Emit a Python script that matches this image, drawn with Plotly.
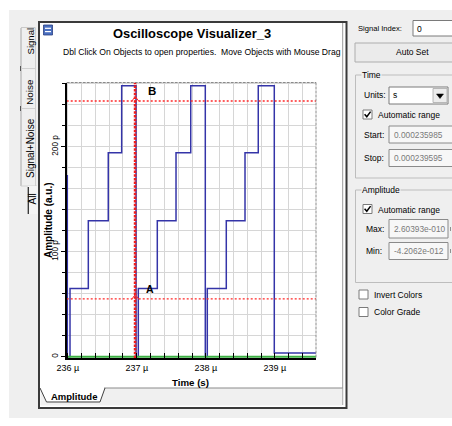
import plotly.graph_objects as go

W, H = 452, 426
FONT = "Liberation Sans, Arial, Helvetica, sans-serif"

# ---------------- data ----------------
time_us = [235.994, 235.994, 236.033, 236.298, 236.587, 236.781, 236.989,
           237.022, 237.297, 237.568, 237.781, 237.992,
           238.021, 238.296, 238.567, 238.759, 238.991, 239.595]
amp_p = [173, 0, 65, 129.5, 194.3, 258, 0,
         65, 129.5, 194.3, 258, 0,
         65, 129.5, 194.3, 258, 3.5, 3.5]
noise_time_us = [235.985, 239.595]
noise_amp_p = [0, 0]
cursor_time_us = [236.975, 236.975]
cursor_span_p = [-1.24, 261.1]
cursor_time_span = [235.985, 239.595]
cursor_a_p = [55, 55]
cursor_b_p = [243.5, 243.5]
x_range = [235.985, 239.595]
y_range = [-1.24, 261.1]
x_tickvals = [236, 237, 238, 239]
x_ticktext = ["236 µ", "237 µ", "238 µ", "239 µ"]
y_tickvals = [0, 100, 200]
y_ticktext = ["0", "100 p", "200 p"]

# ---------------- helpers (pixel -> paper) ----------------
def X(px):
    return px / W


def Y(py):
    return 1 - py / H


PL, PR, PT, PB = 66.7, 316, 82.5, 358

shapes = []
annotations = []


def rect(x0, y0, x1, y1, fill=None, line=None, lw=1, layer="below"):
    shapes.append(dict(type="rect", xref="paper", yref="paper",
                       x0=X(x0), x1=X(x1), y0=Y(y1), y1=Y(y0),
                       fillcolor=fill or "rgba(0,0,0,0)",
                       line=dict(color=line or "rgba(0,0,0,0)", width=lw if line else 0),
                       layer=layer))


def seg(x0, y0, x1, y1, color, lw=1, dash="solid", layer="below"):
    shapes.append(dict(type="line", xref="paper", yref="paper",
                       x0=X(x0), x1=X(x1), y0=Y(y0), y1=Y(y1),
                       line=dict(color=color, width=lw, dash=dash), layer=layer))


def path(pts, color, lw=1, fill=None, closed=False, layer="below"):
    d = "M " + " L ".join(f"{X(x):.5f},{Y(y):.5f}" for x, y in pts)
    if closed:
        d += " Z"
    shapes.append(dict(type="path", xref="paper", yref="paper", path=d,
                       fillcolor=fill or "rgba(0,0,0,0)",
                       line=dict(color=color, width=lw), layer=layer))


def txt(s, x, y, size=8.5, bold=False, color="black", anchor="left", angle=0, bg=None):
    a = dict(x=X(x), y=Y(y), xref="paper", yref="paper",
             text=f"<b>{s}</b>" if bold else s, showarrow=False,
             xanchor=anchor, yanchor="middle", textangle=angle, borderpad=0,
             font=dict(family=FONT, size=size, color=color))
    if bg:
        a["bgcolor"] = bg
    annotations.append(a)


# ---------------- application chrome ----------------
BG = "#efefef"
rect(9, 10, 452, 418, fill=BG)
# window
rect(39, 22, 346.5, 408, fill="white", line="#3a3a3a", lw=2)
seg(342.7, 23, 342.7, 405, "#9a9a9a", 1)
# window icon
rect(43.5, 25, 52.5, 35, fill="#4a6fc0", line="#2a3f80", lw=0.8)
seg(45, 28.3, 51, 28.3, "white", 1.2)
seg(45, 31.6, 51, 31.6, "white", 1.2)

# bottom tab strip
rect(40.5, 388, 342.2, 405.5, fill="#f0f0f0")
seg(104, 388, 342.7, 388, "#8a8a8a", 1)
path([(40, 388), (46.5, 402), (100, 402), (105, 388)], "#404040", 1, fill="white")
txt("Amplitude", 73.5, 396, size=9.5, bold=True, anchor="center")

# left vertical tabs
seg(21, 28, 21, 186, "#a8a8a8", 1)
seg(35.5, 28, 35.5, 186, "#d0d0d0", 1)
seg(21, 27.5, 35.5, 27.5, "#c8c8c8", 1)
seg(20.5, 66, 20.5, 71, "#555555", 1)
seg(20.5, 106, 20.5, 111, "#555555", 1)
seg(21, 68.5, 35.5, 68.5, "#d0d0d0", 1)
seg(21, 108.5, 35.5, 108.5, "#d0d0d0", 1)
seg(21, 186, 37, 186, "#d0d0d0", 1)
rect(28, 186, 37.5, 214, fill="#f4f4f4")
seg(28.3, 187, 28.3, 214, "#303030", 1.3)
txt("Signal", 30, 41.5, size=9.6, anchor="center", angle=-90)
txt("Noise", 30, 91.7, size=9.8, anchor="center", angle=-90)
txt("Signal+Noise", 30, 148, size=10, anchor="center", angle=-90)
txt("All", 31.5, 199, size=10, anchor="center", angle=-90)

# title / subtitle
txt("Oscilloscope Visualizer_3", 192, 33.5, size=12.9, bold=True, anchor="center")
txt("Dbl Click On Objects to open properties.\u00a0 Move Objects with Mouse Drag",
    202, 51.5, size=8.6, anchor="center")

# ---------------- right control panel ----------------
txt("Signal Index:", 357, 29, size=7.6)
rect(413, 20.5, 460, 36, fill="white", line="#7a7a7a", lw=1)
txt("0", 416, 28.5, size=8.5)

rect(355, 43, 460, 62, fill="#ebebeb", line="#adadad", lw=1)
txt("Auto Set", 412.5, 52.5, size=8.5, anchor="center")

# Time group
rect(355.5, 75, 460, 178, line="#bdbdbd", lw=1)
txt("Time", 361, 75, size=8.5, bg=BG)
txt("Units:", 362.5, 95.5, size=8.5)
rect(389, 87, 448, 104, fill="white", line="#7a7a7a", lw=1)
rect(433, 88.5, 447, 102.5, fill="#ececec", line="#a8a8a8", lw=0.8)
path([(436.5, 94), (443.5, 94), (440, 98.5)], "black", 0.5, fill="black", closed=True)
txt("s", 392, 95.5, size=8.5)
rect(363, 110, 372, 119, fill="white", line="#7a7a7a", lw=1)
path([(364.6, 114.2), (366.8, 116.8), (370.6, 111.6)], "black", 1.5)
txt("Automatic range", 376.5, 115, size=8.5)
txt("Start:", 362.5, 134.5, size=8.5)
rect(389, 126, 460, 143, fill="#f7f7f7", line="#8a8a8a", lw=1)
txt("0.000235985", 392.5, 134.5, size=8.3, color="#7a7a7a")
txt("Stop:", 362.5, 158, size=8.5)
rect(389, 149.5, 460, 166.5, fill="#f7f7f7", line="#8a8a8a", lw=1)
txt("0.000239595", 392.5, 158, size=8.3, color="#7a7a7a")

# Amplitude group
rect(355.5, 190, 460, 282.5, line="#bdbdbd", lw=1)
txt("Amplitude", 361, 190, size=8.5, bg=BG)
rect(363, 204.5, 372, 213.5, fill="white", line="#7a7a7a", lw=1)
path([(364.6, 208.7), (366.8, 211.3), (370.6, 206.1)], "black", 1.5)
txt("Automatic range", 376.5, 209.5, size=8.5)
txt("Max:", 364.5, 229, size=8.5)
rect(389, 219.5, 448, 238, fill="#f7f7f7", line="#8a8a8a", lw=1)
txt("2.60393e-010", 392.5, 229, size=8.3, color="#7a7a7a")
txt("Min:", 365, 251, size=8.5)
rect(389, 242.5, 448, 259.5, fill="#f7f7f7", line="#8a8a8a", lw=1)
txt("-4.2062e-012", 392.5, 251, size=8.3, color="#7a7a7a")
seg(450.5, 227, 450.5, 231, "#909090", 1)
seg(450.5, 249, 450.5, 253, "#909090", 1)

rect(359, 290, 368, 299, fill="white", line="#7a7a7a", lw=1)
txt("Invert Colors", 372.5, 294.5, size=8.5)
rect(359, 307.5, 368, 316.5, fill="white", line="#7a7a7a", lw=1)
txt("Color Grade", 372.5, 312, size=8.5)

# ---------------- plot decorations ----------------
seg(PL, PT, PR, PT, "#8a8a8a", 1, dash="3px,1px", layer="above")
seg(PR, PT, PR, PB, "#8a8a8a", 1, dash="3px,1px", layer="above")
# small cursor intersection marks
path([(131.5, 101.5), (135.3, 96.5), (139, 101.5)], "#ff2a2a", 1, layer="above")
path([(131.5, 299.5), (135.3, 294.5), (139, 299.5)], "#ff2a2a", 1, layer="above")
txt("B", 147, 91, size=11.5, bold=True)
txt("A", 144.5, 289, size=10.5, bold=True)

# axis titles
txt("Time (s)", 190.5, 382, size=9.7, bold=True, anchor="center")
txt("Amplitude (a.u.)", 48, 220, size=10, bold=True, anchor="center", angle=-90)

# ---------------- traces ----------------
fig = go.Figure()
fig.add_trace(go.Scatter(x=time_us, y=amp_p, mode="lines", line_shape="hv",
                         line=dict(color="#3434a8", width=1.5), hoverinfo="skip"))
fig.add_trace(go.Scatter(x=noise_time_us, y=noise_amp_p, mode="lines",
                         line=dict(color="#3cb043", width=2), hoverinfo="skip"))
fig.add_trace(go.Scatter(x=cursor_time_span, y=cursor_b_p, mode="lines",
                         line=dict(color="#ff2a2a", width=1.3, dash="2px,2px"), hoverinfo="skip"))
fig.add_trace(go.Scatter(x=cursor_time_span, y=cursor_a_p, mode="lines",
                         line=dict(color="#ff2a2a", width=1.3, dash="2px,2px"), hoverinfo="skip"))
fig.add_trace(go.Scatter(x=cursor_time_us, y=cursor_span_p, mode="lines",
                         line=dict(color="#ee1c1c", width=2.6, dash="2.5px,1.2px"), hoverinfo="skip"))

GRID = "#d6d6d6"
fig.update_layout(
    width=W, height=H,
    margin=dict(l=0, r=0, t=0, b=0),
    paper_bgcolor="white", plot_bgcolor="white",
    showlegend=False,
    xaxis=dict(domain=[X(PL), X(PR)], range=x_range, automargin=False,
               tickvals=x_tickvals, ticktext=x_ticktext,
               tickfont=dict(family=FONT, size=9, color="black"),
               ticks="inside", ticklen=5, tickcolor="black", tickwidth=1,
               showgrid=True, gridcolor=GRID, gridwidth=1, zeroline=False,
               showline=True, linecolor="black", linewidth=1.5,
               minor=dict(tick0=236, dtick=0.2, showgrid=True, gridcolor=GRID, gridwidth=1,
                          ticks="inside", ticklen=5, tickcolor="black", tickwidth=1),
               fixedrange=True),
    yaxis=dict(domain=[Y(PB), Y(PT)], range=y_range, automargin=False,
               tickvals=y_tickvals, ticktext=y_ticktext, tickangle=-90,
               tickfont=dict(family=FONT, size=8.2, color="black"),
               ticks="outside", ticklen=4, tickcolor="black", tickwidth=1,
               showgrid=True, gridcolor=GRID, gridwidth=1, zeroline=False,
               showline=True, linecolor="black", linewidth=1.5,
               minor=dict(tick0=0, dtick=20, showgrid=True, gridcolor=GRID, gridwidth=1,
                          ticks="outside", ticklen=3, tickcolor="black", tickwidth=1),
               fixedrange=True),
    shapes=shapes,
    annotations=annotations,
)

fig.write_html("out.html", config={"displayModeBar": False},
               post_script="document.body.style.margin='0';document.body.style.overflow='hidden';")
